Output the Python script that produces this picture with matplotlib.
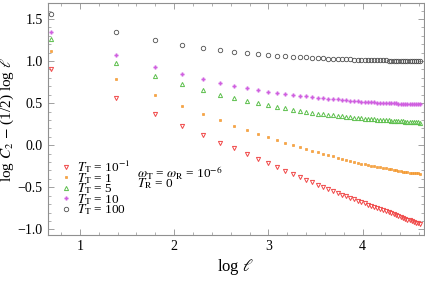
import numpy as np
import matplotlib
matplotlib.use("Agg")
import matplotlib.pyplot as plt
from matplotlib.ticker import MultipleLocator

plt.rcParams['font.family'] = ['Liberation Serif', 'DejaVu Serif']
plt.rcParams['mathtext.fontset'] = 'stix'

# ell = 2, 4, ..., 100
ell = np.arange(2, 101, 2)
log_ell = np.log(ell)

y_T01 = [0.910, 0.567, 0.369, 0.233, 0.119, 0.031, -0.036, -0.107, -0.167, -0.214,
         -0.258, -0.302, -0.338, -0.374, -0.410, -0.440, -0.473, -0.499, -0.522, -0.545,
         -0.566, -0.586, -0.605, -0.624, -0.641, -0.658, -0.675, -0.690, -0.705, -0.720,
         -0.734, -0.748, -0.761, -0.774, -0.786, -0.798, -0.810, -0.821, -0.832, -0.843,
         -0.853, -0.863, -0.873, -0.883, -0.893, -0.902, -0.911, -0.920, -0.928, -0.937]
y_T1 = [1.120, 0.786, 0.595, 0.471, 0.376, 0.301, 0.233, 0.182, 0.138, 0.095,
        0.063, 0.031, 0.007, -0.017, -0.040, -0.064, -0.085, -0.102, -0.118, -0.133,
        -0.147, -0.160, -0.173, -0.185, -0.196, -0.207, -0.217, -0.226, -0.234, -0.242,
        -0.250, -0.257, -0.264, -0.270, -0.276, -0.282, -0.288, -0.293, -0.298, -0.303,
        -0.308, -0.312, -0.316, -0.320, -0.324, -0.327, -0.330, -0.332, -0.334, -0.336]
y_T5 = [1.265, 0.980, 0.825, 0.722, 0.655, 0.602, 0.560, 0.527, 0.504, 0.476,
        0.456, 0.440, 0.420, 0.408, 0.396, 0.381, 0.372, 0.366, 0.360, 0.354,
        0.349, 0.344, 0.339, 0.334, 0.329, 0.325, 0.321, 0.317, 0.314, 0.311,
        0.308, 0.305, 0.302, 0.300, 0.297, 0.295, 0.293, 0.291, 0.289, 0.287,
        0.285, 0.283, 0.281, 0.279, 0.278, 0.276, 0.275, 0.273, 0.272, 0.270]
y_T10 = [1.340, 1.067, 0.924, 0.845, 0.781, 0.742, 0.698, 0.678, 0.655, 0.638,
         0.623, 0.610, 0.595, 0.587, 0.579, 0.572, 0.566, 0.560, 0.555, 0.550,
         0.545, 0.540, 0.535, 0.531, 0.527, 0.523, 0.519, 0.516, 0.513, 0.510,
         0.508, 0.506, 0.504, 0.502, 0.501, 0.499, 0.498, 0.497, 0.496, 0.495,
         0.494, 0.493, 0.492, 0.492, 0.491, 0.491, 0.490, 0.490, 0.489, 0.489]
y_T100 = [1.560, 1.340, 1.245, 1.194, 1.158, 1.130, 1.107, 1.095, 1.083, 1.073,
          1.066, 1.060, 1.054, 1.049, 1.044, 1.040, 1.036, 1.033, 1.030, 1.028,
          1.026, 1.024, 1.022, 1.020, 1.018, 1.017, 1.016, 1.014, 1.013, 1.012,
          1.011, 1.010, 1.009, 1.008, 1.007, 1.006, 1.006, 1.005, 1.004, 1.004,
          1.003, 1.003, 1.002, 1.002, 1.001, 1.001, 1.001, 1.000, 1.000, 1.000]

labels = [r'$T_{\mathrm{T}}$ = 10$^{-1}$', r'$T_{\mathrm{T}}$ = 1', r'$T_{\mathrm{T}}$ = 5',
          r'$T_{\mathrm{T}}$ = 10', r'$T_{\mathrm{T}}$ = 100']

fig = plt.figure(figsize=(4.25, 2.83), dpi=100)
ax = fig.add_axes([0.112, 0.1685, 0.885, 0.821])

# red open down triangles
ax.plot(log_ell, y_T01, ls='none', marker='v', ms=3.0, mfc='none', mec='#f04848', mew=0.7, label=labels[0])
# orange small squares
ax.plot(log_ell, y_T1, ls='none', marker='s', ms=2.0, mfc='#f8a840', mec='#f08c20', mew=0.4, label=labels[1])
# green open triangles
ax.plot(log_ell, y_T5, ls='none', marker='^', ms=3.0, mfc='none', mec='#5cbf4c', mew=0.7, label=labels[2])
# magenta plus
ax.plot(log_ell, y_T10, ls='none', marker='P', ms=2.7, mfc='#d060e0', mec='#d060e0', mew=0.2, label=labels[3])
# dark gray circles
ax.plot(log_ell, y_T100, ls='none', marker='o', ms=3.2, mfc='none', mec='#505050', mew=0.6, label=labels[4])

ax.set_xlim(0.656, 4.65)
ax.set_ylim(-1.07, 1.69)
ax.xaxis.set_major_locator(MultipleLocator(1))
ax.xaxis.set_minor_locator(MultipleLocator(0.2))
ax.yaxis.set_major_locator(MultipleLocator(0.5))
ax.yaxis.set_minor_locator(MultipleLocator(0.1))
ax.yaxis.set_major_formatter(matplotlib.ticker.FuncFormatter(lambda v, p: ('%.1f' % v).replace('-', '\u2212')))

for s in ax.spines.values():
    s.set_color('#909090')
    s.set_linewidth(0.8)
ax.tick_params(which='both', direction='in', top=True, right=True, color='#909090', labelsize=10)
ax.tick_params(which='major', length=4, width=0.6)
ax.tick_params(which='minor', length=2, width=0.5)

ax.set_xlabel(r'log $\ell$', fontsize=12, labelpad=3)
ax.set_ylabel(r'log $C_2$ $-$ (1/2) log $\ell$', fontsize=11, labelpad=1)

leg = ax.legend(loc='upper left', bbox_to_anchor=(0.022, 0.36), frameon=False, fontsize=9.5,
                handlelength=0.6, handletextpad=0.5, labelspacing=-0.32, borderpad=0)

ax.text(1.61, -0.33, r'$\omega_{\mathrm{T}}$ = $\omega_{\mathrm{R}}$ = 10$^{-6}$', fontsize=9.5, va='center')
ax.text(1.61, -0.46, r'$T_{\mathrm{R}}$ = 0', fontsize=9.5, va='center')

fig.savefig('out.png', dpi=100)
